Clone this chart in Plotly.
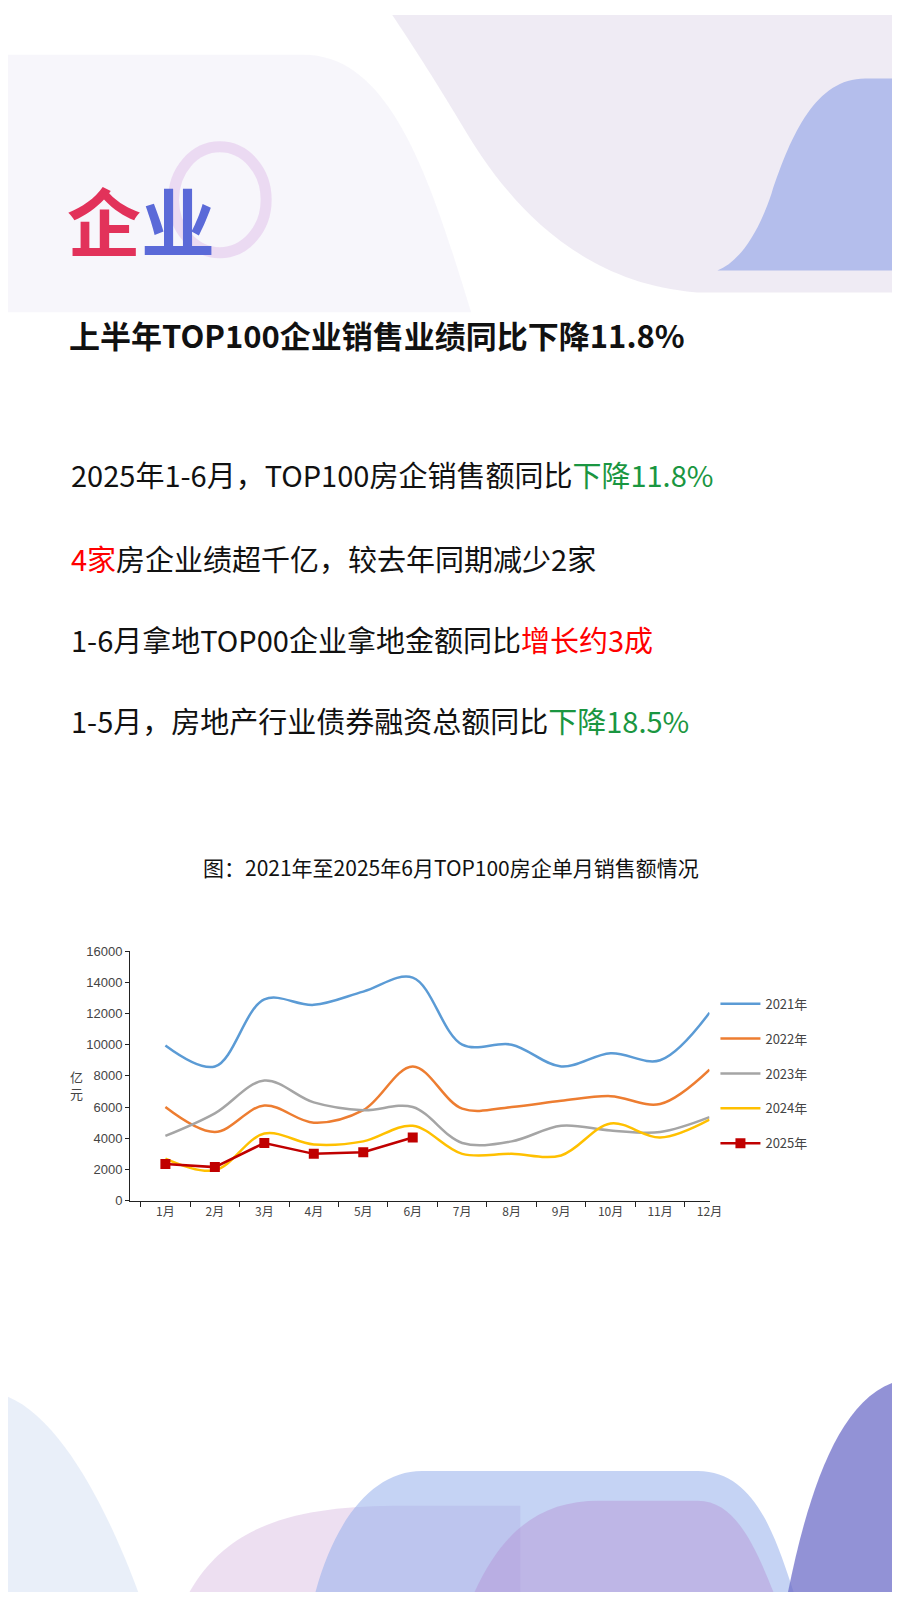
import plotly.graph_objects as go

W, H = 884, 1584

months = ['1月', '2月', '3月', '4月', '5月', '6月', '7月', '8月', '9月', '10月', '11月', '12月']
s2021 = [9950, 8600, 12900, 12550, 13400, 14300, 10000, 10000, 8600, 9450, 9000, 12050]
s2022 = [6000, 4400, 6100, 5000, 5800, 8600, 5900, 6000, 6400, 6700, 6200, 8400]
s2023 = [4150, 5600, 7700, 6300, 5800, 6000, 3700, 3800, 4800, 4500, 4400, 5350]
s2024 = [2700, 1950, 4300, 3600, 3800, 4800, 3000, 3000, 2900, 4950, 4050, 5200]
s2025 = [2350, 2150, 3700, 3000, 3100, 4050]
yticks = [0, 2000, 4000, 6000, 8000, 10000, 12000, 14000, 16000]


def pt(x, y):
    return f'{x / W:.4f},{1 - y / H:.4f}'


def path(cmds):
    # cmds: list of (letter, [x1,y1,x2,y2,...]) in pixel coordinates
    out = ''
    for c, nums in cmds:
        out += c
        if nums:
            out += ' '.join(pt(nums[i], nums[i + 1]) for i in range(0, len(nums), 2)) + ' '
    return out


fig = go.Figure()

series = [('2021年', s2021, '#5b9bd5'), ('2022年', s2022, '#ed7d31'),
          ('2023年', s2023, '#a5a5a5'), ('2024年', s2024, '#ffc000')]
for name, vals, col in series:
    fig.add_trace(go.Scatter(x=months, y=vals, name=name, mode='lines',
                             line=dict(color=col, width=2.5, shape='spline', smoothing=1.0),
                             legendgroup=name))
fig.add_trace(go.Scatter(x=months[:len(s2025)], y=s2025, name='2025年', mode='lines+markers',
                         line=dict(color='#c00000', width=2.5),
                         marker=dict(symbol='square', size=10, color='#c00000'),
                         legendgroup='2025年'))

shapes = [
    # top-left soft panel
    dict(type='path', path=path([('M', [0, 40]), ('L', [300, 40]),
                                 ('C', [390, 40, 430, 170, 470, 300]), ('L', [0, 300]), ('Z', [])]),
         fillcolor='rgba(232,228,244,0.35)', line_width=0),
    # top-right large soft area
    dict(type='path', path=path([('M', [390, 0]), ('L', [900, 0]), ('L', [900, 280]), ('L', [700, 280]),
                                 ('C', [560, 270, 490, 160, 460, 110]), ('C', [430, 60, 410, 30, 390, 0]), ('Z', [])]),
         fillcolor='rgba(214,204,228,0.4)', line_width=0),
    # top-right blue blob
    dict(type='path', path=path([('M', [900, 64]), ('L', [870, 64]),
                                 ('C', [820, 64, 795, 120, 775, 180]), ('C', [760, 225, 740, 250, 720, 258]),
                                 ('L', [900, 258]), ('Z', [])]),
         fillcolor='rgba(140,160,230,0.6)', line_width=0),
    # ring behind title
    dict(type='circle', xref='paper', yref='paper',
         x0=168 / W, x1=262 / W, y0=1 - 240 / H, y1=1 - 133 / H,
         line=dict(color='rgba(225,195,235,0.55)', width=11), fillcolor='rgba(0,0,0,0)'),
    # bottom-left
    dict(type='path', path=path([('M', [0, 1395]), ('C', [60, 1420, 110, 1530, 135, 1600]),
                                 ('L', [0, 1600]), ('Z', [])]),
         fillcolor='rgba(200,215,240,0.4)', line_width=0),
    # bottom pink blob
    dict(type='path', path=path([('M', [180, 1600]), ('C', [220, 1520, 300, 1505, 400, 1505]),
                                 ('L', [520, 1505]), ('L', [520, 1600]), ('Z', [])]),
         fillcolor='rgba(215,185,225,0.45)', line_width=0),
    # bottom blue blob
    dict(type='path', path=path([('M', [310, 1600]), ('C', [330, 1520, 370, 1470, 420, 1470]),
                                 ('L', [700, 1470]), ('C', [760, 1470, 780, 1540, 800, 1600]), ('Z', [])]),
         fillcolor='rgba(150,175,235,0.55)', line_width=0),
    # bottom purple overlap
    dict(type='path', path=path([('M', [470, 1600]), ('C', [500, 1530, 540, 1500, 600, 1500]),
                                 ('L', [700, 1500]), ('C', [740, 1500, 760, 1550, 780, 1600]), ('Z', [])]),
         fillcolor='rgba(180,140,210,0.4)', line_width=0),
    # bottom right
    dict(type='path', path=path([('M', [900, 1380]), ('C', [840, 1400, 810, 1500, 790, 1600]),
                                 ('L', [900, 1600]), ('Z', [])]),
         fillcolor='rgba(110,110,200,0.75)', line_width=0),
]
for s in shapes:
    s.setdefault('xref', 'paper')
    s.setdefault('yref', 'paper')
    s['layer'] = 'below'

font_cjk = 'Noto Sans CJK SC'
green = '#1a9641'
red = '#ff0000'


def ann(x, y, text, size, color='#111111', xanchor='left', bold=False):
    if bold:
        text = f'<b>{text}</b>'
    return dict(x=x / W, y=1 - y / H, xref='paper', yref='paper', text=text, showarrow=False,
                xanchor=xanchor, yanchor='middle', font=dict(family=font_cjk, size=size, color=color))


annotations = [
    ann(58, 205, '<span style="color:#e2325a">企</span><span style="color:#5b6ad8">业</span>', 74, bold=True),
    ann(60, 323, '上半年TOP100企业销售业绩同比下降11.8%', 31, bold=True),
    ann(62, 463, f'2025年1-6月，TOP100房企销售额同比<span style="color:{green}">下降11.8%</span>', 29),
    ann(62, 548, f'<span style="color:{red}">4家</span>房企业绩超千亿，较去年同期减少2家', 29),
    ann(62, 630, f'1-6月拿地TOP00企业拿地金额同比<span style="color:{red}">增长约3成</span>', 29),
    ann(62, 712, f'1-5月，房地产行业债券融资总额同比<span style="color:{green}">下降18.5%</span>', 29),
    ann(450, 860, '图：2021年至2025年6月TOP100房企单月销售额情况', 21, xanchor='center'),
    ann(70, 1080, '亿<br>元', 13, color='#444444', xanchor='center'),
]

fig.update_layout(
    width=W, height=H, margin=dict(l=0, r=0, t=0, b=0),
    paper_bgcolor='white', plot_bgcolor='rgba(0,0,0,0)',
    shapes=shapes, annotations=annotations, showlegend=True,
    legend=dict(x=718 / W, y=1 - 983 / H, xanchor='left', yanchor='top',
                font=dict(family='Noto Sans CJK SC', size=13, color='#444444'),
                tracegroupgap=15, bgcolor='rgba(0,0,0,0)', itemwidth=40),
    xaxis=dict(domain=[124 / W, 712 / W], type='category', showgrid=False,
               showline=True, linecolor='#222222', linewidth=1.2,
               ticks='outside', tickson='boundaries', ticklen=5, tickcolor='#222222',
               tickfont=dict(family=font_cjk, size=12, color='#444444')),
    yaxis=dict(domain=[1 - 1197 / H, 1 - 945 / H], range=[0, 16000], tickvals=yticks, tickformat='d',
               showgrid=False, zeroline=False, showline=True, linecolor='#222222', linewidth=1.2,
               ticks='outside', ticklen=4, tickcolor='#222222',
               tickfont=dict(family='Liberation Sans', size=13, color='#444444')),
)

fig.write_html('out.html')
